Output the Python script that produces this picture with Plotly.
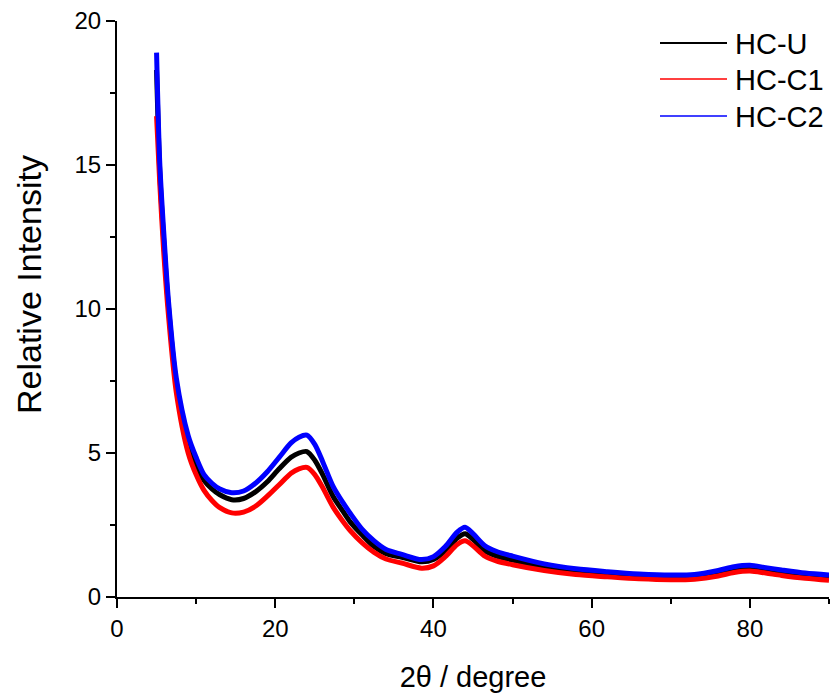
import plotly.graph_objects as go

two_theta = [5.0, 5.4, 5.9, 6.5, 7.5, 9.0, 10.0, 11.0, 12.0, 13.0, 14.5, 16.0, 17.5, 19.0,
             20.5, 22.0, 23.0, 24.0, 25.0, 26.0, 27.3, 28.5, 29.5, 31.0, 32.5, 34.0, 36.0,
             38.5, 40.0, 41.5, 43.0, 44.0, 45.0, 46.5, 48.0, 50.0, 54.0, 58.0, 62.0, 66.0,
             70.0, 73.0, 76.0, 78.0, 80.0, 82.0, 84.0, 87.0, 90.0]

hc_u = [18.3, 14.8, 12.4, 10.1, 7.4, 5.4, 4.6, 4.05, 3.75, 3.55, 3.38, 3.42, 3.65, 4.0,
        4.45, 4.85, 5.0, 5.05, 4.75, 4.25, 3.5, 3.0, 2.6, 2.15, 1.75, 1.5, 1.38,
        1.22, 1.3, 1.6, 2.05, 2.2, 2.0, 1.6, 1.42, 1.28, 1.05, 0.9, 0.8, 0.72,
        0.7, 0.7, 0.85, 0.98, 1.03, 0.95, 0.87, 0.77, 0.7]

hc_c1 = [16.7, 14.4, 12.0, 9.8, 7.1, 5.0, 4.25, 3.7, 3.35, 3.1, 2.92, 2.95, 3.15, 3.5,
         3.9, 4.3, 4.45, 4.5, 4.25, 3.8, 3.13, 2.65, 2.3, 1.88, 1.55, 1.32, 1.18,
         1.0, 1.08, 1.4, 1.82, 1.95, 1.78, 1.42, 1.25, 1.12, 0.92, 0.78, 0.7, 0.63,
         0.6, 0.62, 0.73, 0.85, 0.9, 0.83, 0.75, 0.65, 0.58]

hc_c2 = [18.9, 15.1, 12.7, 10.3, 7.6, 5.6, 4.85, 4.25, 3.95, 3.75, 3.62, 3.68, 3.95, 4.35,
         4.85, 5.35, 5.55, 5.62, 5.3, 4.7, 3.85, 3.3, 2.9, 2.35, 1.95, 1.65, 1.48,
         1.3, 1.4, 1.75, 2.25, 2.42, 2.2, 1.78, 1.58, 1.42, 1.15, 0.98, 0.88, 0.8,
         0.76, 0.78, 0.92, 1.05, 1.1, 1.02, 0.94, 0.83, 0.76]

series_names = ["HC-U", "HC-C1", "HC-C2"]
series_values = [hc_u, hc_c1, hc_c2]
series_colors = ["#000000", "#ff0000", "#0000ff"]

FONT = "Liberation Sans, Arial, sans-serif"

# plot area in pixels
L, R, T, B = 117, 829, 21, 597
W, H = R - L, B - T

def px(x):
    return (x - L) / W

def py(y):
    return (B - y) / H

fig = go.Figure()
for name, vals, col in zip(series_names, series_values, series_colors):
    fig.add_trace(go.Scatter(x=two_theta, y=vals, mode="lines", name=name,
                             line=dict(color=col, width=5, shape="spline", smoothing=0.8),
                             showlegend=False))

# legend drawn manually (long sample lines like the original)
legend_rows = [43, 79, 116]
for name, col, ry in zip(series_names, series_colors, legend_rows):
    fig.add_shape(type="line", xref="paper", yref="paper",
                  x0=px(660), x1=px(727), y0=py(ry), y1=py(ry),
                  line=dict(color=col, width=1.5 if col != "#000000" else 2))
    fig.add_annotation(text=name, xref="paper", yref="paper", x=px(733), y=py(ry + 1),
                       xanchor="left", yanchor="middle", showarrow=False,
                       font=dict(size=29, family=FONT, color="black"))

fig.update_layout(
    width=832, height=698,
    margin=dict(l=L, r=832 - R, t=T, b=698 - B),
    paper_bgcolor="white", plot_bgcolor="white",
    font=dict(family=FONT, color="black"),
    showlegend=False,
    xaxis=dict(range=[0, 90], tickmode="linear", tick0=0, dtick=20,
               showline=True, linecolor="black", linewidth=2, mirror=False,
               ticks="outside", ticklen=9, tickwidth=2, tickcolor="black",
               minor=dict(tickmode="linear", tick0=0, dtick=10, ticks="outside",
                          ticklen=5, tickwidth=2, tickcolor="black"),
               showgrid=False, zeroline=False,
               tickfont=dict(size=24, family=FONT),
               title=dict(text="2θ / degree", font=dict(size=29, family=FONT), standoff=26)),
    yaxis=dict(range=[0, 20], tickmode="linear", tick0=0, dtick=5,
               showline=True, linecolor="black", linewidth=2,
               ticks="outside", ticklen=9, tickwidth=2, tickcolor="black",
               minor=dict(tickmode="linear", tick0=0, dtick=2.5, ticks="outside",
                          ticklen=5, tickwidth=2, tickcolor="black"),
               showgrid=False, zeroline=False,
               tickfont=dict(size=24, family=FONT)),
)
fig.add_annotation(text="Relative Intensity", xref="paper", yref="paper",
                   x=px(29), y=py(285), xanchor="center", yanchor="middle",
                   textangle=-90, showarrow=False, font=dict(size=34, family=FONT))

fig.write_html("out.html")
